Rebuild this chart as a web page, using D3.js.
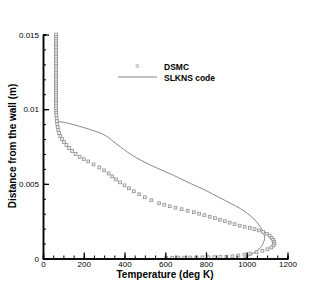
<!DOCTYPE html>
<html>
<head>
<meta charset="utf-8">
<script src="https://cdn.jsdelivr.net/npm/d3@7"></script>
<style>
  body { margin: 0; background: #fff; }
  svg { display: block; font-family: "Liberation Sans", Arial, sans-serif; }
</style>
</head>
<body>
<svg id="chart"></svg>
<script>
const WIDTH = 327,
    HEIGHT = 291;

// DSMC samples: temperature (deg K) and distance from the wall (m)
const dsmcTemp = [
    64, 64, 64, 64, 64, 64, 64, 64, 64, 64, 64, 64, 64, 64, 64, 64, 64, 64, 64,
    64, 64, 64, 64, 64, 64, 64, 64, 64, 64, 64, 64, 64, 64, 64, 65, 65, 66,
    67, 68, 70, 72, 75, 79, 85, 93, 103, 115, 128, 143, 160, 180, 200, 222, 248,
    276, 300, 322, 340, 358, 378, 400, 422, 446, 472, 500, 532, 570, 595, 622,
    650, 680, 710, 740, 766, 792, 818, 844, 868, 892, 916, 940, 965, 990, 1015,
    1038, 1060, 1080, 1098, 1112, 1122, 1130, 1134,
    1136, 1131, 1121, 1102, 1077, 1048, 1018, 989, 959, 930, 900, 871, 841, 812,
    782, 753, 723, 693, 664, 634, 605
];
const dsmcDist = [
    0.0150, 0.01485, 0.0147, 0.01455, 0.0144, 0.01425, 0.0141, 0.01395, 0.0138,
    0.01365, 0.0135, 0.01335, 0.0132, 0.01305, 0.0129, 0.01275, 0.0126, 0.01245,
    0.0123, 0.01215, 0.0120, 0.01185, 0.0117, 0.01155, 0.0114, 0.01125, 0.0111,
    0.01095, 0.0108, 0.01065, 0.0105, 0.01035, 0.0102, 0.01005, 0.0099, 0.00975,
    0.0096,
    0.0094, 0.0092, 0.0090, 0.0088, 0.0086, 0.0084, 0.0082, 0.0080, 0.0078,
    0.0076, 0.0074, 0.0072, 0.0070, 0.0068, 0.00665, 0.0065, 0.0063, 0.0061,
    0.0059, 0.0057, 0.0055, 0.0053, 0.0051, 0.0049, 0.0047, 0.0045, 0.0043,
    0.0041, 0.0039, 0.0037, 0.0036, 0.0035, 0.0034, 0.0033, 0.0032, 0.0031,
    0.0030, 0.0029, 0.0028, 0.0027, 0.0026, 0.0025, 0.0024, 0.0023, 0.0022,
    0.00213, 0.00205, 0.00197, 0.00188, 0.00178, 0.00166, 0.00152, 0.00138,
    0.00124, 0.00112,
    0.00100, 0.00087, 0.00074, 0.00062, 0.00052, 0.00042, 0.00033, 0.00026,
    0.00020, 0.00015, 0.00012, 0.00010, 0.000087, 0.00008, 0.000074, 0.000067,
    0.000067, 0.00006, 0.00006, 0.000054, 0.000054
];

// SLKNS code profile
const slknsTemp = [
    64, 64, 65, 66, 70, 110, 180, 250, 290, 320, 346, 380, 412, 477, 559, 641,
    723, 800, 860, 920, 970, 1002, 1035, 1060, 1078, 1086, 1088, 1083, 1074,
    1060, 1043, 1022, 1002, 978
];
const slknsDist = [
    0.0150, 0.0120, 0.0100, 0.0094, 0.00922, 0.0091, 0.00885, 0.00855, 0.00835,
    0.00812, 0.00782, 0.00748, 0.00715, 0.0066, 0.00606, 0.00557, 0.00503,
    0.00455, 0.00412, 0.0037, 0.00333, 0.00303, 0.00265, 0.00225, 0.00185,
    0.00155, 0.00135, 0.0011, 0.00085, 0.00063, 0.00045, 0.00026, 0.00012, 0.0
];

const xMajor = [0, 200, 400, 600, 800, 1000, 1200];
const xMinor = d3.range(0, 1201, 50);
const yMajor = [0, 0.005, 0.01, 0.015];
const yMinor = d3.range(0, 0.01501, 0.001);

const legendItems = ['DSMC', 'SLKNS code'];

const x = d3.scaleLinear().domain([0, 1200]).range([43, 287.5]);
const y = d3.scaleLinear().domain([0, 0.015]).range([258.5, 34.5]);

const svg = d3.select('svg#chart')
    .attr('width', WIDTH)
    .attr('height', HEIGHT);

const dsmc = dsmcTemp.map((t, i) => ({ t: t, d: dsmcDist[i] }));
const slkns = slknsTemp.map((t, i) => ({ t: t, d: slknsDist[i] }));

// SLKNS line
const line = d3.line()
    .x(d => x(d.t))
    .y(d => y(d.d))
    .curve(d3.curveCatmullRom);

svg.append('path')
    .datum(slkns)
    .attr('fill', 'none')
    .attr('stroke', '#7a7a7a')
    .attr('stroke-width', 0.9)
    .attr('d', line);

// DSMC squares
svg.append('g')
    .selectAll('rect')
    .data(dsmc)
    .enter().append('rect')
        .attr('x', d => x(d.t) - 1.4)
        .attr('y', d => y(d.d) - 1.4)
        .attr('width', 2.8)
        .attr('height', 2.8)
        .attr('fill', '#f2f2f2')
        .attr('stroke', '#8f8f8f')
        .attr('stroke-width', 0.8);

// axes
const xAxisMinor = d3.axisBottom(x).tickValues(xMinor).tickSize(-3).tickFormat('');
const xAxis = d3.axisBottom(x).tickValues(xMajor).tickSizeInner(-6).tickSizeOuter(0).tickPadding(3)
    .tickFormat(d3.format('d'));
const yAxisMinor = d3.axisLeft(y).tickValues(yMinor).tickSize(-3).tickFormat('');
const yAxis = d3.axisLeft(y).tickValues(yMajor).tickSizeInner(-6).tickSizeOuter(0).tickPadding(4)
    .tickFormat(d => d === 0 ? '0' : String(+d.toFixed(3)));

function styleAxis(g) {
    g.select('.domain').attr('stroke', '#000').attr('stroke-width', 1.5);
    g.selectAll('.tick line').attr('stroke', '#000').attr('stroke-width', 1);
    g.selectAll('.tick text').attr('fill', '#000').style('font-size', '8px')
        .style('font-family', '"Liberation Sans", Arial, sans-serif');
}

svg.append('g').attr('transform', 'translate(0,258.5)').call(xAxisMinor).call(styleAxis);
svg.append('g').attr('transform', 'translate(0,258.5)').call(xAxis).call(styleAxis)
    .selectAll('.tick line').attr('stroke-width', 1.3);
svg.append('g').attr('transform', 'translate(43,0)').call(yAxisMinor).call(styleAxis);
svg.append('g').attr('transform', 'translate(43,0)').call(yAxis).call(styleAxis)
    .selectAll('.tick line').attr('stroke-width', 1.3);

// axis titles
svg.append('text')
    .attr('x', 165)
    .attr('y', 277.5)
    .attr('text-anchor', 'middle')
    .style('font-size', '10px')
    .style('font-weight', 'bold')
    .text('Temperature (deg K)');

svg.append('text')
    .attr('transform', 'translate(16,146) rotate(-90)')
    .attr('text-anchor', 'middle')
    .style('font-size', '10px')
    .style('font-weight', 'bold')
    .text('Distance from the wall (m)');

// legend
const legend = svg.append('g').attr('class', 'legend');

legend.append('rect')
    .attr('x', 137.3 - 1.2)
    .attr('y', 66 - 1.2)
    .attr('width', 2.4)
    .attr('height', 2.4)
    .attr('fill', '#f2f2f2')
    .attr('stroke', '#a8a8a8')
    .attr('stroke-width', 0.7);

legend.append('line')
    .attr('x1', 118)
    .attr('x2', 157)
    .attr('y1', 77)
    .attr('y2', 77)
    .attr('stroke', '#7a7a7a')
    .attr('stroke-width', 0.9);

legend.selectAll('text')
    .data(legendItems)
    .enter().append('text')
        .attr('x', 164)
        .attr('y', (d, i) => 69.5 + i * 11)
        .style('font-size', '8.5px')
        .style('font-weight', 'bold')
        .text(d => d);
</script>
</body>
</html>
